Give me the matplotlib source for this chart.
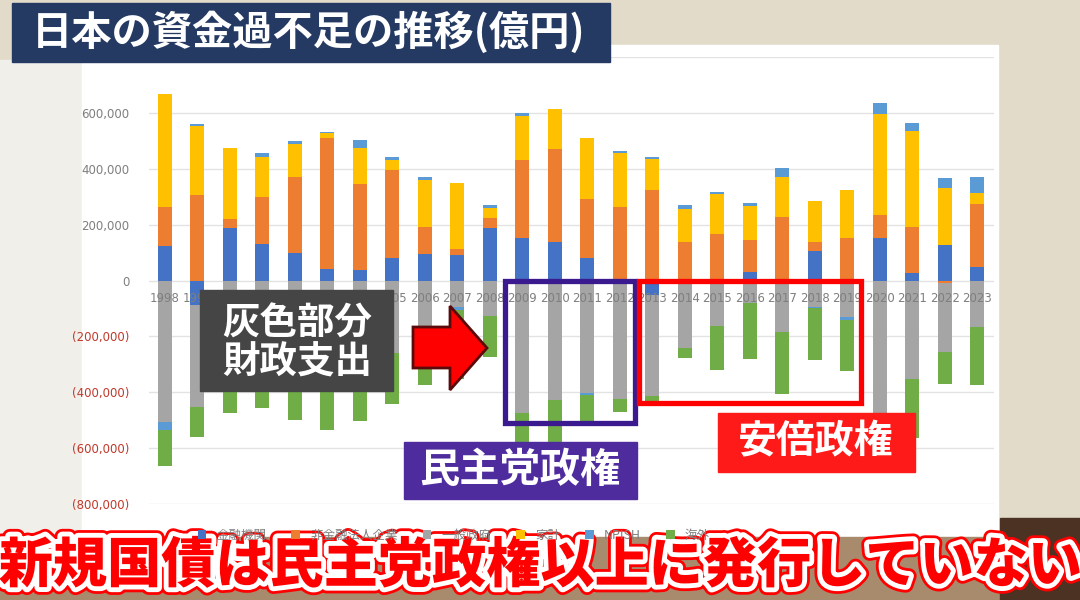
import numpy as np
import matplotlib
matplotlib.use("Agg")
import matplotlib.pyplot as plt
import matplotlib.patheffects as pe
from matplotlib.patches import Rectangle, Polygon

plt.rcParams['font.family'] = ['Noto Sans CJK JP', 'DejaVu Sans']

# data (億円)
years = [str(y) for y in range(1998, 2024)]
sectors = ['金融機関', '非金融法人企業', '一般政府', '家計', 'NPISH', '海外']
colors = ['#4472C4', '#ED7D31', '#A5A5A5', '#FFC000', '#5B9BD5', '#70AD47']

kinyu = [125, -87, 188, 132, 100, 42, 38, 80, 96, 92, 190, 152, 138, 82, 3, -50,
         2, 2, 30, 2, 108, 2, 152, 26, 128, 48]
hikinyu = [138, 307, 33, 169, 273, 468, 307, 317, 95, 20, 34, 281, 334, 211, 260, 325,
           138, 165, 115, 225, 30, 152, 83, 165, -8, 227]
seifu = [-507, -365, -350, -360, -360, -378, -318, -260, -314, -95, -127, -473, -428, -401, -424, -363,
         -242, -161, -79, -185, -93, -129, -478, -353, -249, -167]
kakei = [405, 249, 256, 141, 116, 18, 129, 36, 170, 239, 35, 157, 142, 217, 196, 111,
         116, 144, 124, 146, 149, 171, 361, 345, 203, 40]
npish = [-29, 6, 0, 15, 12, 6, 30, 9, 12, -10, 12, 12, 0, -8, 7, 8,
         15, 8, 11, 32, -6, -12, 40, 30, 38, 58]
kaigai = [-128, -107, -125, -97, -141, -157, -186, -182, -60, -247, -145, -129, -186, -101, -46, -31,
          -34, -159, -203, -222, -185, -183, -158, -212, -113, -207]

series = [kinyu, hikinyu, seifu, kakei, npish, kaigai]

yticks = [-800000, -600000, -400000, -200000, 0, 200000, 400000, 600000, 800000]

fig = plt.figure(figsize=(10.8, 6), dpi=100)
fig.patch.set_facecolor('#e2dbca')

# background pieces (pixel coords)
bg = fig.add_axes([0, 0, 1, 1], zorder=-1)
bg.set_xlim(0, 1080)
bg.set_ylim(600, 0)
bg.axis('off')
bg.add_patch(Rectangle((0, 60), 82, 480, color='#f1efea'))
bg.add_patch(Rectangle((82, 45), 916, 492, color='white'))
bg.add_patch(Rectangle((0, 537), 1080, 63, color='#a88a6c'))
bg.add_patch(Rectangle((1000, 518), 80, 82, color='#4b3222'))

ax = fig.add_axes([0.1377, 0.1602, 0.7823, 0.744], zorder=1)
ax.set_facecolor('none')
x = np.arange(len(years))
pos_bot = np.zeros(len(years))
neg_bot = np.zeros(len(years))
for name, vals, c in zip(sectors, series, colors):
    v = np.array(vals) * 1000.0
    bottom = np.where(v >= 0, pos_bot, neg_bot)
    ax.bar(x, v, width=0.43, bottom=bottom, color=c, label=name, zorder=3)
    pos_bot += np.where(v > 0, v, 0)
    neg_bot += np.where(v < 0, v, 0)

ax.set_xlim(-0.5, len(years) - 0.5)
ax.set_ylim(-800000, 800000)
ax.set_yticks(yticks)
labels = []
for t in yticks:
    if t < 0:
        labels.append('({:,})'.format(-t))
    else:
        labels.append('{:,}'.format(t))
ax.set_yticklabels(labels, fontsize=8.5, family=['DejaVu Sans'])
for lab, t in zip(ax.get_yticklabels(), yticks):
    lab.set_color('#c0392b' if t < 0 else '#7f7f7f')
ax.tick_params(axis='y', length=0, pad=14)
ax.set_xticks([])
ax.grid(axis='y', color='#e3e3e3', lw=1, zorder=0)
for s in ax.spines.values():
    s.set_visible(False)
for i, yr in enumerate(years):
    ax.annotate(yr, (i, 0), xytext=(0, -12.5), textcoords='offset points',
                ha='center', va='center', fontsize=8.5, color='#7f7f7f',
                family=['DejaVu Sans'], zorder=4)

# legend sits behind the caption, as in the source screenshot
fig.legend(loc='center', bbox_to_anchor=(0.42, 0.108), ncol=6, frameon=False,
           fontsize=9, labelcolor='#7f7f7f', handlelength=0.7, handleheight=0.7,
           columnspacing=2.0)

# overlay annotations (pixel coords)
ov = fig.add_axes([0, 0, 1, 1], zorder=5)
ov.set_xlim(0, 1080)
ov.set_ylim(600, 0)
ov.axis('off')

ov.add_patch(Rectangle((12, 3), 598, 59, color='#243a63'))
ov.text(309, 33, '日本の資金過不足の推移(億円)', color='white', fontsize=29,
        weight='bold', ha='center', va='center')

ov.add_patch(Rectangle((200, 290), 193, 101, color='#454545'))
ov.text(297, 323, '灰色部分', color='white', fontsize=27, weight='bold', ha='center', va='center')
ov.text(297, 362, '財政支出', color='white', fontsize=27, weight='bold', ha='center', va='center')

arrow = [(413, 327), (450, 327), (450, 306), (487, 348), (450, 390), (450, 368), (413, 368)]
ov.add_patch(Polygon(arrow, closed=True, facecolor='#ff0000', edgecolor='#5a0a0a', lw=2))

ov.add_patch(Rectangle((505, 281), 130, 142, fill=False, edgecolor='#3b1a8f', lw=3.8))
ov.add_patch(Rectangle((404, 442), 233, 57, color='#4f2c9e'))
ov.text(520, 470, '民主党政権', color='white', fontsize=29, weight='bold', ha='center', va='center')

ov.add_patch(Rectangle((639, 281), 222, 122, fill=False, edgecolor='#ff0000', lw=3.8))
ov.add_patch(Rectangle((718, 413), 197, 59, color='#ff1a1a'))
ov.text(816, 442, '安倍政権', color='white', fontsize=28, weight='bold', ha='center', va='center')

cap = ov.text(540, 566, '新規国債は民主党政権以上に発行していない', color='#ff0000',
              fontsize=39, weight='black', ha='center', va='center')
cap.set_path_effects([pe.Stroke(linewidth=11, foreground='#ff0000'),
                      pe.Stroke(linewidth=7, foreground='white'), pe.Normal()])

fig.savefig('out.png', dpi=100)
